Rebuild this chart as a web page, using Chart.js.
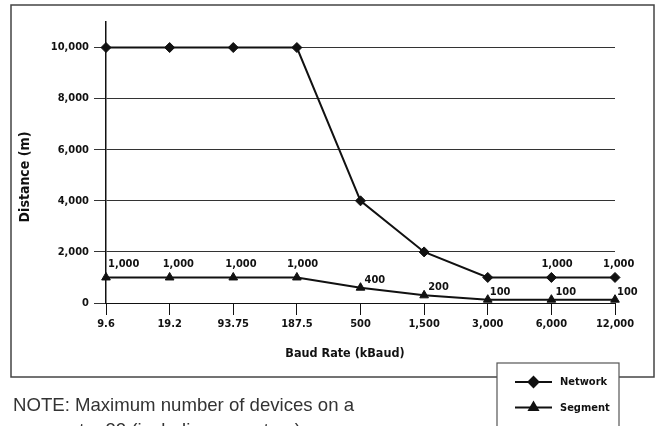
<!DOCTYPE html>
<html>
<head>
<meta charset="utf-8">
<script src="https://cdn.jsdelivr.net/npm/chart.js@4/dist/chart.umd.min.js"></script>
<style>
  html, body { margin: 0; padding: 0; background: #fff; }
  #wrap { width: 656px; height: 426px; position: relative; }
</style>
</head>
<body>
<div id="wrap"><canvas id="chart"></canvas></div>
<script>
const baudRates = ['9.6', '19.2', '93.75', '187.5', '500', '1,500', '3,000', '6,000', '12,000'];
const networkDistance = [10000, 10000, 10000, 10000, 4000, 2000, 1000, 1000, 1000];
const segmentDistance = [1000, 1000, 1000, 1000, 600, 300, 130, 130, 130];
const networkLabels = [null, null, null, null, null, null, null, '1,000', '1,000'];
const segmentLabels = ['1,000', '1,000', '1,000', '1,000', '400', '200', '100', '100', '100'];
const distanceTicks = [0, 2000, 4000, 6000, 8000, 10000];

const xTitle = 'Baud Rate (kBaud)';
const yTitle = 'Distance (m)';
const noteLines = ['NOTE: Maximum number of devices on a', 'segment = 32 (including repeaters).'];

const condensed = "'DejaVu Sans Condensed', 'Liberation Sans Narrow', sans-serif";
const ink = '#111';

// label placement (left edge offset from point)
const netLabelDx = [0, 0, 0, 0, 0, 0, 0, -10, -12];
const segLabelDx = [2, -7, -8, -10, 4, 4, 2, 4, 2];

const framePlugin = {
    id: 'frame',
    beforeDraw(chart) {
        const ctx = chart.ctx;
        ctx.save();
        ctx.fillStyle = '#fff';
        ctx.fillRect(0, 0, chart.width, chart.height);
        ctx.strokeStyle = '#444';
        ctx.lineWidth = 1.5;
        ctx.strokeRect(11, 5, 643, 372);
        ctx.restore();
    },
    afterDraw(chart) {
        const ctx = chart.ctx;
        ctx.save();
        ctx.fillStyle = ink;
        ctx.font = "bold 12.5px " + condensed;
        ctx.textAlign = 'center';
        ctx.textBaseline = 'middle';
        ctx.fillText(xTitle, 345, 354);
        ctx.font = "bold 14px " + condensed;
        ctx.translate(25, 177);
        ctx.rotate(-Math.PI / 2);
        ctx.fillText(yTitle, 0, 0);
        ctx.restore();

        // note under the frame
        ctx.save();
        ctx.fillStyle = '#333';
        ctx.font = "18.6px 'Liberation Sans', Arial, sans-serif";
        ctx.textAlign = 'left';
        ctx.textBaseline = 'alphabetic';
        noteLines.forEach((t, i) => ctx.fillText(t, 13, 410.5 + i * 25.5));
        ctx.restore();

        // legend box
        ctx.save();
        ctx.fillStyle = '#fff';
        ctx.fillRect(497, 363, 122, 70);
        ctx.strokeStyle = '#555';
        ctx.lineWidth = 1.2;
        ctx.strokeRect(497, 363, 122, 70);
        chart.data.datasets.forEach((ds, i) => {
            const y = 382 + i * 25.5;
            ctx.strokeStyle = ink;
            ctx.lineWidth = 2;
            ctx.beginPath();
            ctx.moveTo(515, y);
            ctx.lineTo(552, y);
            ctx.stroke();
            ctx.fillStyle = ink;
            Chart.helpers.drawPoint(ctx, {pointStyle: ds.pointStyle, radius: ds.pointRadius, borderWidth: 1}, 533.5, y);
            ctx.fillStyle = ink;
            ctx.font = "bold 11px " + condensed;
            ctx.textAlign = 'left';
            ctx.textBaseline = 'middle';
            ctx.fillText(ds.label, 560, y + 0.5);
        });
        ctx.restore();
    },
    afterDatasetsDraw(chart) {
        const ctx = chart.ctx;
        ctx.save();
        ctx.fillStyle = ink;
        ctx.font = "bold 11px " + condensed;
        ctx.textAlign = 'left';
        ctx.textBaseline = 'middle';
        const sets = [[0, networkLabels, netLabelDx], [1, segmentLabels, segLabelDx]];
        sets.forEach(([di, labels, dxs]) => {
            const meta = chart.getDatasetMeta(di);
            meta.data.forEach((pt, i) => {
                const txt = labels[i];
                if (!txt) return;
                const dy = txt.length > 3 ? -13 : -8;
                ctx.fillText(txt, pt.x + dxs[i], pt.y + dy);
            });
        });
        ctx.restore();
    }
};

new Chart(document.getElementById('chart'), {
    type: 'line',
    data: {
        labels: baudRates,
        datasets: [
            {
                label: 'Network',
                data: networkDistance,
                borderColor: ink,
                backgroundColor: ink,
                borderWidth: 2,
                pointStyle: 'rectRot',
                pointRadius: 5,
                pointBorderWidth: 1,
                tension: 0,
            },
            {
                label: 'Segment',
                data: segmentDistance,
                borderColor: ink,
                backgroundColor: ink,
                borderWidth: 2,
                pointStyle: 'triangle',
                pointRadius: 5,
                pointBorderWidth: 1,
                tension: 0,
            }
        ]
    },
    options: {
        responsive: true,
        maintainAspectRatio: false,
        animation: false,
        layout: { padding: { left: 0, top: 22, right: 41, bottom: 0 } },
        plugins: {
            legend: { display: false },
            tooltip: { enabled: false },
        },
        scales: {
            x: {
                offset: false,
                afterFit: (scale) => { scale.height = 123; },
                grid: { drawOnChartArea: false, drawTicks: true, tickLength: 12, color: ink, lineWidth: 1 },
                border: { display: true, color: ink, width: 1 },
                ticks: {
                    color: ink,
                    padding: 3,
                    maxRotation: 0,
                    autoSkip: false,
                    font: { family: condensed, weight: 'bold', size: 11 },
                },
            },
            y: {
                min: 0,
                max: 11000,
                afterFit: (scale) => { scale.width = 106; },
                afterBuildTicks: (scale) => { scale.ticks = distanceTicks.map(v => ({ value: v })); },
                grid: { color: '#333', lineWidth: 1, tickLength: 12 },
                border: { display: true, color: ink, width: 1.5 },
                ticks: {
                    color: ink,
                    padding: 5,
                    font: { family: condensed, weight: 'bold', size: 11 },
                    callback: (v) => v.toLocaleString('en-US'),
                },
            }
        }
    },
    plugins: [framePlugin]
});
</script>
</body>
</html>
